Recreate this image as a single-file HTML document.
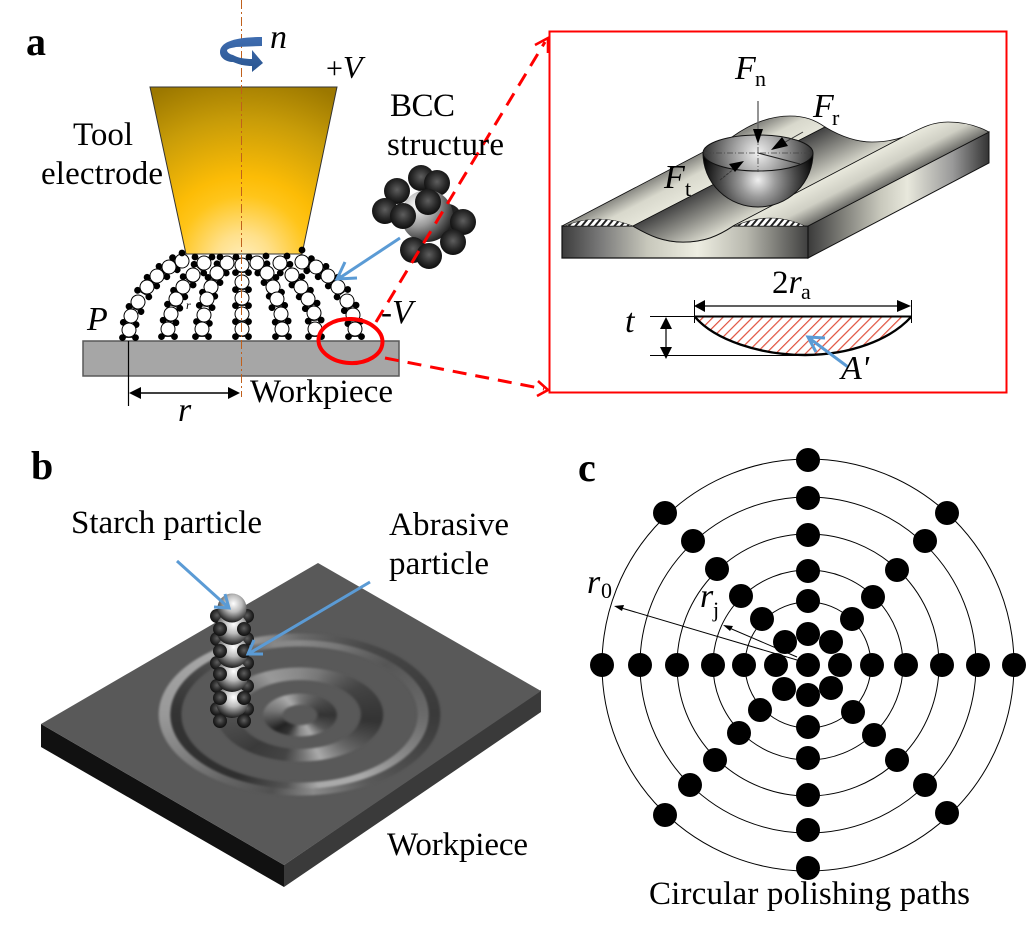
<!DOCTYPE html>
<html><head><meta charset="utf-8"><style>
html,body{margin:0;padding:0;background:#fff}
svg{display:block}
text{font-family:"Liberation Serif",serif;fill:#000;font-size:33px}
.i{font-style:italic;font-size:34px}
.b{font-weight:bold;font-size:40px}
.wrap{position:relative;width:300px;height:180px;filter:blur(1px)}
.wrap div{position:absolute;border-radius:50%}
.r1{left:8px;top:8px;width:283px;height:163px}
.r2{left:65.5px;top:42px;width:168px;height:95px}
.r3{left:112px;top:68px;width:76px;height:44px}
</style></head><body>
<svg width="1028" height="933" viewBox="0 0 1028 933" xmlns="http://www.w3.org/2000/svg">
<defs>
<radialGradient id="tool" gradientUnits="userSpaceOnUse" cx="243" cy="262" r="190">
<stop offset="0" stop-color="#ffefc0"/><stop offset=".15" stop-color="#ffe08a"/><stop offset=".35" stop-color="#ffc51a"/><stop offset=".45" stop-color="#fcbc06"/><stop offset=".75" stop-color="#c89c08"/><stop offset="1" stop-color="#9c7800"/></radialGradient>
<radialGradient id="ball" cx=".5" cy=".45" r=".55"><stop offset="0" stop-color="#5e5e5e"/><stop offset=".6" stop-color="#2a2a2a"/><stop offset="1" stop-color="#0e0e0e"/></radialGradient>
<radialGradient id="big" cx=".3" cy=".3" r=".8"><stop offset="0" stop-color="#fff"/><stop offset=".5" stop-color="#999"/><stop offset="1" stop-color="#161616"/></radialGradient>
<radialGradient id="sp" cx=".55" cy=".35" r=".65"><stop offset="0" stop-color="#fff"/><stop offset=".45" stop-color="#bbb"/><stop offset="1" stop-color="#1c1c1c"/></radialGradient>
<linearGradient id="front" x1="0" x2="1" y1="0" y2="0"><stop offset="0" stop-color="#3c3c3c"/><stop offset=".15" stop-color="#777"/><stop offset=".35" stop-color="#c8c8bc"/><stop offset=".55" stop-color="#eeeee2"/><stop offset=".75" stop-color="#b8b8ae"/><stop offset="1" stop-color="#3f3f3f"/></linearGradient>
<linearGradient id="rf" x1="0" x2="1" y1="0" y2="0"><stop offset="0" stop-color="#3a3a3a"/><stop offset=".4" stop-color="#c8c8bc"/><stop offset=".55" stop-color="#e8e8dc"/><stop offset=".8" stop-color="#999"/><stop offset="1" stop-color="#333"/></linearGradient>
<linearGradient id="s1" gradientUnits="userSpaceOnUse" x1="562" y1="226" x2="578" y2="257"><stop offset="0" stop-color="#8a8a84"/><stop offset=".45" stop-color="#d8d8cc"/><stop offset="1" stop-color="#e8e8dc"/></linearGradient>
<linearGradient id="s2" gradientUnits="userSpaceOnUse" x1="633" y1="226" x2="654" y2="267"><stop offset="0" stop-color="#444"/><stop offset=".5" stop-color="#8e8e88"/><stop offset="1" stop-color="#dcdcd0"/></linearGradient>
<linearGradient id="s3" gradientUnits="userSpaceOnUse" x1="733" y1="226" x2="749" y2="257"><stop offset="0" stop-color="#e8e8dc"/><stop offset=".5" stop-color="#cfcfc4"/><stop offset="1" stop-color="#6a6a66"/></linearGradient>
<radialGradient id="hem" gradientUnits="userSpaceOnUse" cx="758" cy="180" r="58"><stop offset="0" stop-color="#f0f0f0"/><stop offset=".3" stop-color="#9a9a9a"/><stop offset=".65" stop-color="#484848"/><stop offset="1" stop-color="#000"/></radialGradient>
<radialGradient id="top" gradientUnits="userSpaceOnUse" cx="758" cy="153" r="56"><stop offset="0" stop-color="#f2f2f2"/><stop offset=".55" stop-color="#888"/><stop offset="1" stop-color="#2c2c2c"/></radialGradient>
<linearGradient id="arw" x1="0" x2="0" y1="0" y2="1"><stop offset="0" stop-color="#3f6db0"/><stop offset="1" stop-color="#2a5590"/></linearGradient>
<pattern id="h" width="7" height="7" patternUnits="userSpaceOnUse" patternTransform="rotate(45)"><rect width="1.2" height="7" fill="#e0503c"/></pattern>
<pattern id="hk" width="5" height="5" patternUnits="userSpaceOnUse" patternTransform="rotate(40)"><rect width="2" height="5" fill="#222"/></pattern>
<g id="l"><circle r="7" fill="#fff" stroke="#000" stroke-width="1"/><line x1="-5" y1="7.5" x2="5" y2="7.5" stroke="#000" stroke-width=".8"/><circle cx="-6.5" cy="7.6" r="3.4"/><circle cx="6.5" cy="7.6" r="3.4"/></g>
<circle id="bl" r="13" fill="url(#ball)"/>
<circle id="sb" r="7" fill="url(#ball)"/>
<circle id="d" r="12"/>
</defs>

<!-- PANEL A -->
<polygon points="150,87 337,87 302,254 186,254" fill="url(#tool)" stroke="#333" stroke-width="1"/>
<rect x="83" y="341" width="316" height="35" fill="#a6a6a6" stroke="#595959" stroke-width="1.5"/>
<line x1="128.5" y1="341" x2="128.5" y2="406" stroke="#000" stroke-width="1.2"/>
<line x1="140" y1="393" x2="230" y2="393" stroke="#000" stroke-width="1.5"/>
<polygon points="129,393 141,387 141,399"/><polygon points="240,393 228,387 228,399"/>

<!-- chains -->
<g>
<use href="#l" transform="translate(182 261) rotate(69)"/><use href="#l" transform="translate(169 267) rotate(53)"/><use href="#l" transform="translate(157 276) rotate(42)"/><use href="#l" transform="translate(147 287) rotate(30)"/><use href="#l" transform="translate(138 302) rotate(23)"/><use href="#l" transform="translate(131 316) rotate(10)"/><use href="#l" transform="translate(129 330)"/>
<use href="#l" transform="translate(204 263) rotate(42)"/><use href="#l" transform="translate(193 275) rotate(40)"/><use href="#l" transform="translate(183 287) rotate(30)"/><use href="#l" transform="translate(176 299) rotate(18)"/><use href="#l" transform="translate(171 314) rotate(11)"/><use href="#l" transform="translate(168 329)"/>
<use href="#l" transform="translate(227 263) rotate(45)"/><use href="#l" transform="translate(217 273) rotate(23)"/><use href="#l" transform="translate(211 287) rotate(18)"/><use href="#l" transform="translate(207 299) rotate(10)"/><use href="#l" transform="translate(204 315) rotate(8)"/><use href="#l" transform="translate(202 329)"/>
<use href="#l" transform="translate(242 265)"/><use href="#l" transform="translate(242 282)"/><use href="#l" transform="translate(242 298)"/><use href="#l" transform="translate(242 314)"/><use href="#l" transform="translate(242 329)"/>
<use href="#l" transform="translate(257 263) rotate(-45)"/><use href="#l" transform="translate(267 273) rotate(-23)"/><use href="#l" transform="translate(273 287) rotate(-18)"/><use href="#l" transform="translate(277 299) rotate(-10)"/><use href="#l" transform="translate(281 314) rotate(-5)"/><use href="#l" transform="translate(282 329)"/>
<use href="#l" transform="translate(280 263) rotate(-42)"/><use href="#l" transform="translate(292 275) rotate(-40)"/><use href="#l" transform="translate(301 287) rotate(-30)"/><use href="#l" transform="translate(308 299) rotate(-25)"/><use href="#l" transform="translate(314 313) rotate(-5)"/><use href="#l" transform="translate(315 329)"/>
<use href="#l" transform="translate(302 262) rotate(-69)"/><use href="#l" transform="translate(316 267) rotate(-53)"/><use href="#l" transform="translate(328 276) rotate(-42)"/><use href="#l" transform="translate(338 287) rotate(-35)"/><use href="#l" transform="translate(347 301) rotate(-25)"/><use href="#l" transform="translate(353 315) rotate(-10)"/><use href="#l" transform="translate(355 329)"/>
<circle cx="182" cy="253" r="3.4"/><circle cx="195" cy="257" r="3.4"/><circle cx="212" cy="257" r="3.4"/><circle cx="220" cy="257" r="3.4"/><circle cx="236" cy="257" r="3.4"/><circle cx="249" cy="257" r="3.4"/><circle cx="266" cy="256" r="3.4"/><circle cx="287" cy="256" r="3.4"/><circle cx="302" cy="250" r="3.4"/>
</g>
<text class="i" x="186" y="309" style="font-size:12px">r</text>
<line x1="241.5" y1="0" x2="241.5" y2="397" stroke="#c0601c" stroke-width="1" stroke-dasharray="9 3 2 3"/>

<!-- rotation arrow -->
<path d="M262,37 C235,37 220,42 220,52 C220,58 226,62 233,62 C240,65 246,66 252,66 L252,72 L263,63 L252,50 L252,59 C245,59 238,58 233,55 C229,54 227,52 227,50 C229,48 232,48 236,47 L262,46 Z" fill="url(#arw)"/>

<!-- BCC -->
<circle cx="448" cy="217" r="13" fill="#222"/>
<use href="#bl" x="421" y="178"/><use href="#bl" x="437" y="183"/>
<circle cx="427" cy="216" r="26" fill="url(#big)"/>
<use href="#bl" x="397" y="191"/><use href="#bl" x="385" y="211"/><use href="#bl" x="403" y="216"/><use href="#bl" x="428" y="202"/>
<use href="#bl" x="463" y="222"/><use href="#bl" x="453" y="242"/><use href="#bl" x="413" y="250"/><use href="#bl" x="429" y="256"/>

<path d="M400,238 L338,279 M357,278 L337,279 L345,262" fill="none" stroke="#5b9bd5" stroke-width="3"/>

<!-- red box and connectors -->
<rect x="549.5" y="31.5" width="457" height="361" fill="#fff" stroke="#f00" stroke-width="2"/>
<ellipse cx="350.5" cy="341" rx="32" ry="22" fill="none" stroke="#f00" stroke-width="4" transform="rotate(3 350 341)"/>
<line x1="376" y1="322" x2="545" y2="42" stroke="#f00" stroke-width="3" stroke-dasharray="14 9"/>
<line x1="385" y1="358" x2="544" y2="389" stroke="#f00" stroke-width="3" stroke-dasharray="14 9"/>
<path d="M535,45 L548,38 L548,53 M538,381 L548,390 L537,396" fill="none" stroke="#f00" stroke-width="2.6"/>

<!-- block -->
<path d="M808,226 L989,132 V163 L808,258 Z" fill="url(#rf)" stroke="#111" stroke-width="1"/>
<path d="M562,226 L633,226 C650,236 664,242 683,242 C704,242 718,236 733,226 L808,226 V258 H562 Z" fill="url(#front)" stroke="#111" stroke-width="1.2"/>
<path d="M562,226 L732,137 C750,124 770,116 790,116 C805,116 815,120 825,127 L633,226 Z" fill="url(#s1)" stroke="#111" stroke-width=".8"/>
<path d="M633,226 L825,127 C840,136 855,142 872,142 C885,142 895,140 903,137 L733,226 C718,236 704,242 683,242 C664,242 650,236 633,226 Z" fill="url(#s2)" stroke="#111" stroke-width=".8"/>
<path d="M733,226 L903,137 C918,130 930,122 948,122 C965,122 978,126 989,132 L808,226 Z" fill="url(#s3)" stroke="#111" stroke-width=".8"/>
<path d="M565,226 Q597,212 633,226 Z M735,226 Q770,210 805,226 Z" fill="#fff"/>
<path d="M565,226 Q597,212 633,226 Z M735,226 Q770,210 805,226 Z" fill="url(#hk)" stroke="#222" stroke-width=".6"/>

<!-- hemisphere -->
<path d="M703,153 A55 54 0 0 0 813,153 Z" fill="url(#hem)" stroke="#111"/>
<ellipse cx="758" cy="153" rx="55" ry="18" fill="url(#top)" stroke="#111" stroke-width="1"/>
<g stroke="#444" stroke-width=".8" stroke-dasharray="6 2 1 2"><line x1="705" y1="153" x2="812" y2="153"/><line x1="758" y1="136" x2="758" y2="172"/></g>
<line x1="758" y1="153" x2="800" y2="164" stroke="#222" stroke-width="1"/>
<line x1="758" y1="101" x2="758" y2="135" stroke="#666" stroke-width="1.4"/>
<polygon points="758,144 753,129 763,129"/>
<line x1="803" y1="132" x2="780" y2="145" stroke="#333" stroke-width="1"/>
<polygon points="771,150 782,137 788,146"/>
<line x1="720" y1="180" x2="735" y2="168" stroke="#333" stroke-width="1" stroke-dasharray="3 1"/>
<polygon points="744,161 729,164 735,172"/>

<!-- section -->
<path d="M695,317 H911 C890,340 850,355 805,355 C760,355 715,340 695,317 Z" fill="url(#h)"/>
<path d="M695,317 C715,340 760,355 805,355 C850,355 890,340 911,317" fill="none" stroke="#000" stroke-width="2.4"/>
<line x1="695" y1="316.5" x2="911" y2="316.5" stroke="#000" stroke-width="2"/>
<line x1="694.5" y1="300" x2="694.5" y2="323" stroke="#000"/><line x1="911.5" y1="300" x2="911.5" y2="323" stroke="#000"/>
<line x1="700" y1="306" x2="905" y2="306" stroke="#000" stroke-width="1.3"/>
<polygon points="694,306 705,300 705,312"/><polygon points="911,306 897,300 897,312"/>
<line x1="650" y1="316.5" x2="695" y2="316.5" stroke="#000"/><line x1="650" y1="355.5" x2="800" y2="355.5" stroke="#000"/>
<line x1="666" y1="320" x2="666" y2="352" stroke="#000" stroke-width="1.2"/>
<polygon points="666,317 660,329 672,329"/><polygon points="666,359 660,347 672,347"/>
<path d="M848,367 L809,338 M825,338 L808,337 L816,352" fill="none" stroke="#5b9bd5" stroke-width="3"/>

<!-- PANEL B -->
<polygon points="41,724 284,865 284,887 41,747" fill="#111"/>
<polygon points="284,865 541,690 541,712 284,887" fill="#3a3a3a"/>
<polygon points="318,563 541,691 284,865 41,724" fill="#595959"/>
<foreignObject x="150" y="625" width="300" height="180">
<div xmlns="http://www.w3.org/1999/xhtml" class="wrap">
<div class="r1" style="background:conic-gradient(#6a6a6a,#484848 45deg,#3a3a3a 90deg,#5a5a5a 135deg,#8a8a8a 170deg,#505050 200deg,#666 230deg,#999 270deg,#aaa 310deg,#888 340deg,#6a6a6a);-webkit-mask-image:radial-gradient(closest-side,transparent 91%,#000 91.5%,#000 99%,transparent 100%);mask-image:radial-gradient(closest-side,transparent 91%,#000 91.5%,#000 99%,transparent 100%)"></div>
<div class="r1" style="background:conic-gradient(#888,#777 30deg,#555 60deg,#6a6a6a 90deg,#aaa 135deg,#aaa 165deg,#555 190deg,#2f2f2f 225deg,#333 270deg,#555 310deg,#888 340deg,#888);-webkit-mask-image:radial-gradient(closest-side,transparent 83%,#000 84%,#000 91%,transparent 91.5%);mask-image:radial-gradient(closest-side,transparent 83%,#000 84%,#000 91%,transparent 91.5%)"></div>
<div class="r2" style="background:conic-gradient(#888,#777 25deg,#444 65deg,#333 95deg,#666 125deg,#aaa 155deg,#777 175deg,#444 200deg,#3a3a3a 235deg,#555 275deg,#999 320deg,#888);-webkit-mask-image:radial-gradient(closest-side,transparent 71%,#000 74%,#000 98%,transparent 100%);mask-image:radial-gradient(closest-side,transparent 71%,#000 74%,#000 98%,transparent 100%)"></div>
<div class="r3" style="background:conic-gradient(#777,#5a5a5a 40deg,#333 90deg,#555 120deg,#aaa 150deg,#888 180deg,#333 215deg,#222 240deg,#777 280deg,#aaa 320deg,#777);-webkit-mask-image:radial-gradient(closest-side,transparent 42%,#000 50%,#000 94%,transparent 100%);mask-image:radial-gradient(closest-side,transparent 42%,#000 50%,#000 94%,transparent 100%)"></div>
</div>
</foreignObject>

<!-- column -->
<g>
<use href="#sb" x="217" y="616"/><use href="#sb" x="247" y="616"/>
<use href="#sb" x="217" y="639"/><use href="#sb" x="247" y="639"/>
<use href="#sb" x="217" y="663"/><use href="#sb" x="247" y="663"/>
<use href="#sb" x="217" y="686"/><use href="#sb" x="247" y="686"/>
<use href="#sb" x="217" y="709"/><use href="#sb" x="247" y="709"/>
<circle cx="232" cy="702" r="16" fill="url(#sp)"/>
<circle cx="232" cy="676" r="16" fill="url(#sp)"/>
<circle cx="232" cy="652" r="16" fill="url(#sp)"/>
<circle cx="232" cy="629" r="16" fill="url(#sp)"/>
<circle cx="232" cy="608" r="14.5" fill="url(#sp)"/>
<use href="#sb" x="220" y="629"/><use href="#sb" x="244" y="629"/>
<use href="#sb" x="220" y="651"/><use href="#sb" x="244" y="651"/>
<use href="#sb" x="220" y="674"/><use href="#sb" x="244" y="674"/>
<use href="#sb" x="220" y="698"/><use href="#sb" x="244" y="698"/>
<use href="#sb" x="220" y="721"/><use href="#sb" x="244" y="721"/>
</g>
<g fill="none" stroke="#5b9bd5" stroke-width="3">
<path d="M177,561 L229,608 M214,607 L229,608 L225,594"/>
<path d="M370,582 L248,654 M263,654 L248,654 L254,640"/>
</g>

<!-- PANEL C -->
<g fill="none" stroke="#000" stroke-width="1">
<circle cx="808" cy="665" r="206"/><circle cx="808" cy="665" r="168"/><circle cx="808" cy="665" r="131"/><circle cx="808" cy="665" r="95"/><circle cx="808" cy="665" r="63"/>
</g>
<use href="#d" x="602" y="665"/><use href="#d" x="640" y="665"/><use href="#d" x="677" y="665"/><use href="#d" x="713" y="665"/><use href="#d" x="744" y="665"/><use href="#d" x="776" y="665"/><use href="#d" x="808" y="665"/><use href="#d" x="840" y="665"/><use href="#d" x="872" y="665"/><use href="#d" x="906" y="665"/><use href="#d" x="942" y="665"/><use href="#d" x="978" y="665"/><use href="#d" x="1014" y="665"/>
<use href="#d" x="808" y="460"/><use href="#d" x="808" y="498"/><use href="#d" x="808" y="535"/><use href="#d" x="808" y="571"/><use href="#d" x="808" y="601"/><use href="#d" x="808" y="634"/><use href="#d" x="808" y="695"/><use href="#d" x="808" y="727"/><use href="#d" x="808" y="758"/><use href="#d" x="808" y="795"/><use href="#d" x="808" y="830"/><use href="#d" x="808" y="868"/>
<use href="#d" x="665" y="513"/><use href="#d" x="693" y="541"/><use href="#d" x="717" y="569"/><use href="#d" x="741" y="596"/><use href="#d" x="762" y="619"/><use href="#d" x="785" y="642"/>
<use href="#d" x="947" y="513"/><use href="#d" x="925" y="541"/><use href="#d" x="897" y="570"/><use href="#d" x="873" y="597"/><use href="#d" x="852" y="619"/><use href="#d" x="831" y="642"/>
<use href="#d" x="784" y="689"/><use href="#d" x="760" y="710"/><use href="#d" x="739" y="733"/><use href="#d" x="715" y="760"/><use href="#d" x="690" y="785"/><use href="#d" x="665" y="815"/>
<use href="#d" x="831" y="688"/><use href="#d" x="853" y="712"/><use href="#d" x="874" y="735"/><use href="#d" x="897" y="760"/><use href="#d" x="925" y="785"/><use href="#d" x="947" y="813"/>
<line x1="797" y1="660" x2="618" y2="607" stroke="#000" stroke-width="1"/><polygon points="614,606 624,605 622,611"/>
<line x1="797" y1="657" x2="727" y2="627" stroke="#000" stroke-width="1"/><polygon points="723,625 733,626 730,631"/>

<!-- TEXT -->
<text class="b" x="26" y="55">a</text><text class="b" x="31" y="479">b</text><text class="b" x="578" y="481">c</text>
<text class="i" x="270" y="48">n</text>
<text x="326" y="78" style="font-size:30px">+<tspan class="i" style="font-size:32px">V</tspan></text>
<text x="73" y="145">Tool</text>
<text x="41" y="184" textLength="122">electrode</text>
<text x="390" y="116" textLength="65">BCC</text>
<text x="387" y="155" textLength="117">structure</text>
<text class="i" x="87" y="330">P</text>
<text x="381" y="323">-<tspan class="i">V</tspan></text>
<text class="i" x="178" y="421">r</text>
<text x="250" y="402" textLength="143">Workpiece</text>
<text class="i" x="735" y="79">F</text><text x="755" y="86" style="font-size:22px">n</text>
<text class="i" x="813" y="117">F</text><text x="832" y="125" style="font-size:22px">r</text>
<text class="i" x="664" y="188">F</text><text x="685" y="196" style="font-size:22px">t</text>
<text x="772" y="293">2<tspan class="i">r</tspan></text><text x="801" y="299" style="font-size:22px">a</text>
<text class="i" x="625" y="332">t</text>
<text class="i" x="841" y="379">A'</text>
<text x="71" y="533" textLength="191">Starch particle</text>
<text x="389" y="535" textLength="120">Abrasive</text>
<text x="389" y="574" textLength="100">particle</text>
<text x="387" y="855" textLength="141">Workpiece</text>
<text x="649" y="904" textLength="321">Circular polishing paths</text>
<text class="i" x="587" y="593">r</text><text x="601" y="598" style="font-size:22px">0</text>
<text class="i" x="700" y="607">r</text><text x="713" y="617" style="font-size:22px">j</text>
</svg>
</body></html>
